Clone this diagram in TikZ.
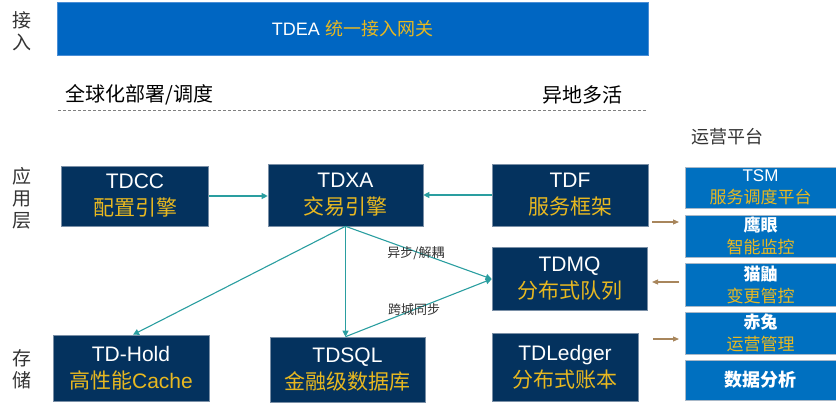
\documentclass[tikz,border=0pt]{standalone}
\usepackage{fontspec}
\setmainfont{Liberation Sans}
\newfontfamily\cjk{Noto Sans CJK SC}
\usetikzlibrary{arrows.meta}
\definecolor{navy}{HTML}{04325E}
\definecolor{navyedge}{HTML}{7A8FA6}
\definecolor{gold}{HTML}{E8B820}
\definecolor{topblue}{HTML}{0066C2}
\definecolor{topedge}{HTML}{4A8ED6}
\definecolor{opsblue}{HTML}{0070C0}
\definecolor{opsedge}{HTML}{A8B8C8}
\definecolor{teal}{HTML}{2A9EA0}
\definecolor{brownarr}{HTML}{A8865C}
\definecolor{labelgray}{HTML}{333333}
\tikzset{
  darkbox/.style={rectangle, fill=navy, draw=navyedge, line width=0.6pt, align=center,
    text=white, font=\fontsize{21}{27}\selectfont, inner sep=0pt},
  opsbox/.style={rectangle, fill=opsblue, draw=opsedge, line width=0.8pt, align=center,
    text=white, font=\fontsize{17}{22}\selectfont, inner sep=0pt,
    minimum width=151pt},
  sidelabel/.style={text=labelgray, font=\cjk\fontsize{19}{23}\selectfont, align=center, inner sep=0pt},
  headlabel/.style={text=black, font=\cjk\fontsize{20}{24}\selectfont, inner sep=0pt},
  flowlabel/.style={text=labelgray, font=\cjk\fontsize{13}{15}\selectfont, inner sep=0pt},
  tealarrow/.style={draw=teal, line width=1.1pt, -{Triangle[length=6pt,width=6pt]}},
  brownarrow/.style={draw=brownarr, line width=1.1pt, -{Triangle[length=6pt,width=5pt]}},
}
\begin{document}
\begin{tikzpicture}[x=1pt,y=-1pt]
\useasboundingbox (0,0) rectangle (836,412);

% top gateway
\node[rectangle, fill=topblue, draw=topedge, line width=0.8pt, minimum width=591pt, minimum height=53pt,
  text=white, font=\fontsize{18}{22}\selectfont, inner sep=0pt] (tdea) at (352.5,29)
  {TDEA {\cjk\color{gold}统一接入网关}};

% side labels
\node[sidelabel] (lin) at (22,31) {接\\[-1pt]入};
\node[sidelabel] (lapp) at (22,198) {应\\[-1pt]用\\[-1pt]层};
\node[sidelabel] (lsto) at (22,369) {存\\[-1pt]储};

% headings
\node[headlabel, anchor=west] (hglobal) at (65,95) {全球化部署/调度};
\node[headlabel, anchor=east] (hmulti) at (623,95) {异地多活};
\coordinate (dashL) at (58,110);
\coordinate (dashR) at (647,110);
\draw[draw=gray, line width=0.8pt, dash pattern=on 3pt off 2pt] (dashL) -- (dashR);
\node[text=labelgray, font=\cjk\fontsize{18}{22}\selectfont, inner sep=0pt] (hops) at (727,137) {运营平台};

% application layer
\node[darkbox, minimum width=147pt, minimum height=60pt] (tdcc) at (135,196)
  {TDCC\\{\cjk\color{gold}配置引擎}};
\node[darkbox, minimum width=155pt, minimum height=62pt] (tdxa) at (345.5,195)
  {TDXA\\{\cjk\color{gold}交易引擎}};
\node[darkbox, minimum width=156pt, minimum height=62pt] (tdf) at (570,195)
  {TDF\\{\cjk\color{gold}服务框架}};
\node[darkbox, minimum width=155pt, minimum height=63pt] (tdmq) at (569.5,279)
  {TDMQ\\{\cjk\color{gold}分布式队列}};

% storage
\node[darkbox, minimum width=156pt, minimum height=66pt] (tdhold) at (131,368)
  {TD-Hold\\{\color{gold}{\cjk 高性能}Cache}};
\node[darkbox, minimum width=155pt, minimum height=65pt] (tdsql) at (347.5,369.5)
  {TDSQL\\{\cjk\color{gold}金融级数据库}};
\node[darkbox, minimum width=146pt, minimum height=68pt] (tdledger) at (565,367)
  {TDLedger\\{\cjk\color{gold}分布式账本}};

% ops column
\node[opsbox, minimum height=41pt] (tsm) at (760.5,187.5)
  {TSM\\{\cjk\color{gold}服务调度平台}};
\node[opsbox, minimum height=42pt] (eagle) at (760.5,236)
  {{\cjk\bfseries 鹰眼}\\{\cjk\color{gold}智能监控}};
\node[opsbox, minimum height=43pt] (mongoose) at (760.5,284.5)
  {{\cjk\bfseries 猫鼬}\\{\cjk\color{gold}变更管控}};
\node[opsbox, minimum height=42pt] (chitu) at (760.5,333)
  {{\cjk\bfseries 赤兔}\\{\cjk\color{gold}运营管理}};
\node[opsbox, minimum height=40pt, font=\cjk\bfseries\fontsize{18}{22}\selectfont] (data) at (760.5,380)
  {数据分析};

% teal connectors
\draw[tealarrow] (tdcc.east) -- (tdcc.east -| tdxa.west);
\draw[tealarrow] (tdf.west) -- (tdf.west -| tdxa.east);
\draw[tealarrow] (tdxa.south) -- ([xshift=2pt]tdhold.north);
\draw[tealarrow] (tdxa.south) -- (tdxa.south |- tdsql.north);
\draw[tealarrow] (tdxa.south) -- (tdmq.west);
\draw[tealarrow] (tdxa.south |- tdsql.north) -- (tdmq.west);
\node[flowlabel] (lasync) at (416,253) {异步/解耦};
\node[flowlabel] (lsync) at (414,310) {跨城同步};

% brown arrows
\coordinate (a1s) at (652,222); \coordinate (a1e) at (679,222);
\coordinate (a2s) at (679,282); \coordinate (a2e) at (652,282);
\coordinate (a3s) at (653,339); \coordinate (a3e) at (679,339);
\draw[brownarrow] (a1s) -- (a1e);
\draw[brownarrow] (a2s) -- (a2e);
\draw[brownarrow] (a3s) -- (a3e);
\end{tikzpicture}
\end{document}
